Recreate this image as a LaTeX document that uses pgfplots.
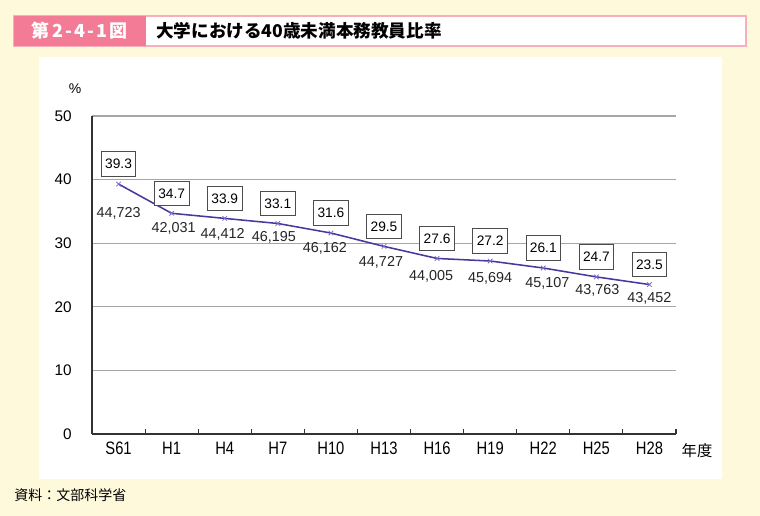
\documentclass[border=0pt]{standalone}
\usepackage{pgfplots}
\pgfplotsset{compat=1.18}
\usepackage{pgfplotstable}
\usepackage{fontspec}
\setmainfont{Liberation Sans}
\newfontfamily\cjk{Noto Sans CJK JP}
\newfontfamily\narrow[FakeStretch=0.82]{Liberation Sans}
\definecolor{bg}{HTML}{FFF9DC}
\definecolor{pinkbar}{HTML}{F47B96}
\definecolor{pinkline}{HTML}{F7AFBE}
\definecolor{lineblue}{HTML}{453A9C}
\definecolor{markblue}{HTML}{7A6FD0}
\definecolor{gridgray}{HTML}{A6A6A6}
\definecolor{axisdark}{HTML}{333333}

\pgfplotstableread{
x v n dx dy
0 39.3 44,723 0 29
1 34.7 42,031 2 15
2 33.9 44,412 -2 16
3 33.1 46,195 -4 14
4 31.6 46,162 -6 15
5 29.5 44,727 -3 16
6 27.6 44,005 -6 18
7 27.2 45,694 0 17
8 26.1 45,107 4 15
9 24.7 43,763 1 13
10 23.5 43,452 0 14
}\data

\begin{document}
\begin{tikzpicture}
\begin{scope}[x=0.75pt,y=-0.75pt]
  \fill[bg] (0,0) rectangle (760,516);
  \fill[white] (39,57) rectangle (722,479);
  \fill[white] (14,16) rectangle (746,46);
  \draw[pinkline, line width=0.9pt] (14,16) rectangle (746,46);
  \fill[pinkbar] (14,16) rectangle (146,46);
  \node[text=white, font=\cjk\bfseries\fontsize{13.5pt}{15pt}\selectfont] at (80,31) {第\kern2pt 2\kern1.5pt -\kern1.5pt 4\kern1.5pt -\kern1.5pt 1\kern2pt 図};
  \node[anchor=west, inner sep=0pt, font=\cjk\bfseries\fontsize{13.2pt}{15pt}\selectfont] at (156,31) {大学における40歳未満本務教員比率};
  \node[font=\fontsize{10.5pt}{12pt}\selectfont] at (75,89) {\%};
  \node[font=\cjk\fontsize{11.5pt}{13pt}\selectfont] at (697,451) {年度};
  \node[anchor=west, inner sep=0pt, font=\cjk\fontsize{10.5pt}{12pt}\selectfont] at (14,495) {資料：文部科学省};
\end{scope}
\begin{axis}[
  at={(69pt,-325.5pt)}, anchor=south west,
  scale only axis, width=438pt, height=238.5pt,
  xmin=-0.5, xmax=10.5, ymin=0, ymax=50,
  clip=false,
  /pgf/number format/assume math mode=true,
  axis x line*=bottom, axis y line*=left,
  axis line style={-, draw=axisdark, line width=1.15pt},
  ytick={0,10,...,50},
  ytick style={draw=none},
  ymajorgrids,
  grid style={draw=gridgray, line width=0.8pt},
  yticklabel style={inner sep=0pt, xshift=-15pt, font=\fontsize{11.5pt}{13pt}\selectfont},
  xtick={0,...,10},
  xticklabels={S61,H1,H4,H7,H10,H13,H16,H19,H22,H25,H28},
  xtick style={draw=none},
  xticklabel style={inner sep=0pt, yshift=-6pt, font=\narrow\fontsize{13.5pt}{15pt}\selectfont},
  extra x ticks={0.5,1.5,...,10.5},
  extra x tick labels={},
  extra x tick style={xtick style={draw=axisdark, line width=0.8pt}, major tick length=3.75pt, tick align=inside},
]
\addplot[draw=lineblue, line width=1.15pt, mark=x, mark size=2.4pt,
  mark options={draw=markblue, line width=0.6pt},
  nodes near coords, point meta=explicit symbolic,
  nodes near coords style={anchor=center, yshift=15pt, draw=black!70, fill=white,
    line width=0.6pt, inner sep=1pt, minimum width=26pt, minimum height=18.5pt,
    font=\fontsize{10.3pt}{12pt}\selectfont, text=black}]
  table[x=x, y=v, meta=v] {\data};
\addplot[draw=none, mark=none,
  visualization depends on={\thisrow{dx} \as \dx},
  visualization depends on={\thisrow{dy} \as \dy},
  nodes near coords, point meta=explicit symbolic,
  nodes near coords style={anchor=center, xshift=\dx*0.75pt, yshift=-\dy*0.75pt,
    font=\fontsize{10.8pt}{12pt}\selectfont, text=black!85}]
  table[x=x, y=v, meta=n] {\data};
\end{axis}
\end{tikzpicture}
\end{document}
